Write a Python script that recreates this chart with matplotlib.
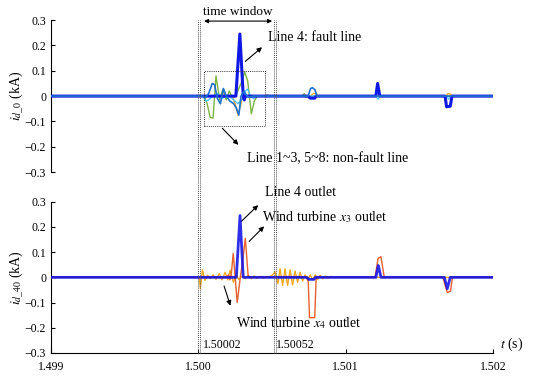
import numpy as np
import matplotlib
matplotlib.use('Agg')
import matplotlib.pyplot as plt
import matplotlib.transforms as mtransforms
from matplotlib.lines import Line2D
from matplotlib.patches import Rectangle

plt.rcParams['font.family'] = ['Liberation Serif', 'DejaVu Serif']
plt.rcParams['mathtext.fontset'] = 'stix'

T0 = 1.5  # time offset, samples below are in microseconds after T0

# ---- top panel: zero-mode current of each line ----
line4_top_us = [-1000, 255, 282, 305, 312, 320, 745, 760, 790, 800, 1205, 1217, 1232, 1675, 1685, 1710, 1722, 2000]
line4_top_val = [0, 0, 0.245, 0, -0.015, 0, 0, -0.008, -0.008, 0, 0, 0.05, 0, 0, -0.042, -0.04, 0, 0]

mblue_us = [-1000, 30, 50, 70, 95, 110, 130, 150, 170, 190, 215, 240, 260, 275, 290, 310, 330, 350, 370,
            745, 762, 775, 792, 805, 2000]
mblue_val = [0, 0, -0.005, 0.01, 0.05, 0.045, -0.01, -0.03, 0.03, 0.0, -0.02, -0.03, -0.05, -0.075, 0.0,
             0.02, 0.0, -0.005, 0, 0, 0.03, 0.033, 0.025, 0, 0]

green_us = [-1000, 40, 60, 80, 100, 120, 145, 165, 190, 210, 235, 260, 290, 315, 335, 360, 380, 400,
            450, 470, 490, 700, 720, 730, 745, 2000]
green_val = [0, 0, -0.03, -0.083, -0.087, 0.08, -0.015, 0.025, -0.015, 0.02, -0.01, 0.01, 0.05, 0.095,
             0.06, -0.07, -0.02, 0, 0, 0.005, 0, 0, 0.01, -0.005, 0, 0]

lblue_us = [-1000, 30, 50, 70, 100, 130, 160, 200, 240, 270, 300, 320, 335, 355, 375, 395,
            1205, 1220, 1235, 1685, 1700, 1715, 2000]
lblue_val = [0, 0, -0.02, -0.015, 0.0, 0.01, -0.01, 0.005, -0.015, -0.03, -0.01, 0.02, 0.028, 0.0,
             -0.01, 0, 0, -0.012, 0, 0, -0.012, 0, 0]

orange_top_us = [-1000, 230, 250, 270, 285, 300, 760, 780, 800, 815, 1680, 1695, 1712, 1720, 2000]
orange_top_val = [0, 0, -0.03, -0.075, -0.04, 0, 0, 0.01, 0.01, 0, 0, 0.01, 0.008, 0, 0]

# ---- bottom panel: 40-mode current at outlets ----
line4_bot_us = [-1000, 258, 283, 305, 320, 735, 750, 785, 795, 1205, 1222, 1240, 1670, 1690, 1710, 2000]
line4_bot_val = [0, 0, 0.245, 0.0, 0, 0, -0.008, -0.008, 0, 0, 0.047, 0, 0, -0.045, 0, 0]

wt3_us = [-1000, 190, 205, 215, 225, 237, 250, 264, 285, 300, 319, 339, 360, 745, 755, 790, 800,
          1200, 1220, 1240, 1262, 1660, 1690, 1712, 1725, 2000]
wt3_val = [0, 0, 0.01, -0.01, 0.02, 0.095, 0.0, -0.1, 0.0, 0.06, 0.155, 0, 0, 0, -0.16, -0.16, 0,
           0, 0.075, 0.082, 0, 0, -0.06, -0.055, 0, 0]

wt4_us = [-1000, 5, 14, 28, 45, 62, 80, 100, 120, 142, 160, 182, 200, 216, 238, 255, 275, 300, 320,
          340, 360, 380, 400, 420, 440, 460, 480, 505, 520, 540, 555, 572, 589, 606, 623, 640, 657,
          674, 691, 708, 725, 742, 760, 777, 794, 811, 828, 845, 862, 880, 900, 920, 2000]
wt4_val = [0, 0, -0.045, 0.03, -0.012, 0.008, -0.005, 0.01, -0.008, 0.015, -0.01, 0.02, -0.01, 0.028,
           -0.02, 0.01, -0.008, 0.005, -0.005, 0.008, -0.005, 0.005, -0.004, 0.004, -0.003, 0.003, 0,
           0.01, 0.022, -0.025, 0.034, -0.032, 0.034, -0.032, 0.03, -0.03, 0.025, -0.02, 0.02, -0.015,
           0.01, -0.012, 0.01, -0.01, 0.01, -0.008, 0.008, -0.006, 0.005, -0.003, 0.003, 0, 0]

yticks = [-0.3, -0.2, -0.1, 0, 0.1, 0.2, 0.3]
ytick_labels = ['\u22120.3', '\u22120.2', '\u22120.1', '0', '0.1', '0.2', '0.3']
xticks = [1.499, 1.500, 1.501, 1.502]
xtick_labels = ['1.499', '1.500', '1.501', '1.502']
window = [1.50002, 1.50052]


def t(us):
    return T0 + np.asarray(us) * 1e-6


fig = plt.figure(figsize=(5.5, 3.86), dpi=100)
ax1 = fig.add_axes([0.0927, 0.554, 0.8036, 0.394])
ax2 = fig.add_axes([0.0927, 0.0855, 0.8036, 0.392])

# top panel
ax1.plot(t(line4_top_us), line4_top_val, color='#1018e6', lw=2.2, zorder=3)
ax1.plot(t(green_us), green_val, color='#7cb342', lw=1.0, zorder=2)
ax1.plot(t(orange_top_us), orange_top_val, color='#f5a623', lw=1.0, zorder=2)
ax1.plot(t(lblue_us), lblue_val, color='#4fc3f7', lw=1.0, zorder=2)
ax1.plot(t(mblue_us), mblue_val, color='#1f6fd0', lw=1.2, zorder=4)

# bottom panel
ax2.plot(t(wt4_us), wt4_val, color='#f2a81d', lw=1.0, zorder=2)
ax2.plot(t(wt3_us), wt3_val, color='#e8602c', lw=1.0, zorder=3)
ax2.plot(t(line4_bot_us), line4_bot_val, color='#0a0ae8', lw=2.0, alpha=0.85, zorder=4)

for ax in (ax1, ax2):
    ax.set_xlim(1.499, 1.502)
    ax.set_ylim(-0.3, 0.3)
    ax.set_yticks(yticks)
    ax.set_yticklabels(ytick_labels)
    ax.tick_params(direction='in', length=3, labelsize=8.5, width=0.8)
    for s in ('top', 'right'):
        ax.spines[s].set_visible(False)

ax1.spines['bottom'].set_visible(False)
ax1.set_xticks([])
ax2.set_xticks(xticks)
ax2.set_xticklabels(xtick_labels)
ax2.tick_params(axis='x', pad=6)

ax1.set_ylabel(r'$i_{d\_0}$ (kA)', fontsize=10, labelpad=-1)
ax2.set_ylabel(r'$i_{d\_40}$ (kA)', fontsize=10, labelpad=-1)
ax2.text(1.50205, -0.3, r'$t$ (s)', fontsize=10, ha='left', va='bottom')

# time window dotted lines across both panels
trans = mtransforms.blended_transform_factory(ax2.transData, fig.transFigure)
for x in (1.499995, 1.500012, 1.500515, 1.50053):
    fig.add_artist(Line2D([x, x], [0.0855, 0.948], transform=trans, color='#555555',
                          lw=0.7, linestyle=(0, (1, 1))))

ax1.annotate('', xy=(window[1], 0.296), xytext=(window[0], 0.296),
             arrowprops=dict(arrowstyle='<|-|>', color='black', lw=0.8,
                             mutation_scale=6), annotation_clip=False)
ax1.text(sum(window) / 2, 0.31, 'time window', fontsize=9.5, ha='center', va='bottom')

ax2.text(window[0] + 0.00001, -0.27, '1.50002', fontsize=8.5, ha='left', va='center')
ax2.text(window[1] + 0.00001, -0.27, '1.50052', fontsize=8.5, ha='left', va='center')

# dotted box around non-fault lines
ax1.add_patch(Rectangle((t(41), -0.119), 413e-6, 0.218, fill=False, lw=0.7,
                        linestyle=(0, (1, 1.2)), edgecolor='#333333', zorder=5))

arrow = dict(arrowstyle='-|>', color='black', lw=0.8, mutation_scale=7)
ax1.annotate('', xy=(t(447), 0.2), xytext=(t(305), 0.13), arrowprops=arrow)
ax1.text(t(473), 0.232, 'Line 4: fault line', fontsize=10, va='center')
ax1.annotate('', xy=(t(285), -0.2), xytext=(t(150), -0.119), arrowprops=arrow)
ax1.text(t(330), -0.245, 'Line 1~3, 5~8: non-fault line', fontsize=10, va='center')

ax2.annotate('', xy=(t(420), 0.294), xytext=(t(278), 0.214), arrowprops=arrow)
ax2.text(t(450), 0.337, 'Line 4 outlet', fontsize=10, va='center')
ax2.annotate('', xy=(t(460), 0.21), xytext=(t(332), 0.135), arrowprops=arrow)
ax2.text(t(435), 0.238, r'Wind turbine $x_3$ outlet', fontsize=10, va='center')
ax2.annotate('', xy=(t(224), -0.123), xytext=(t(169), -0.024), arrowprops=arrow)
ax2.text(t(258), -0.18, r'Wind turbine $x_4$ outlet', fontsize=10, va='center')

fig.savefig('out.png', dpi=100)
